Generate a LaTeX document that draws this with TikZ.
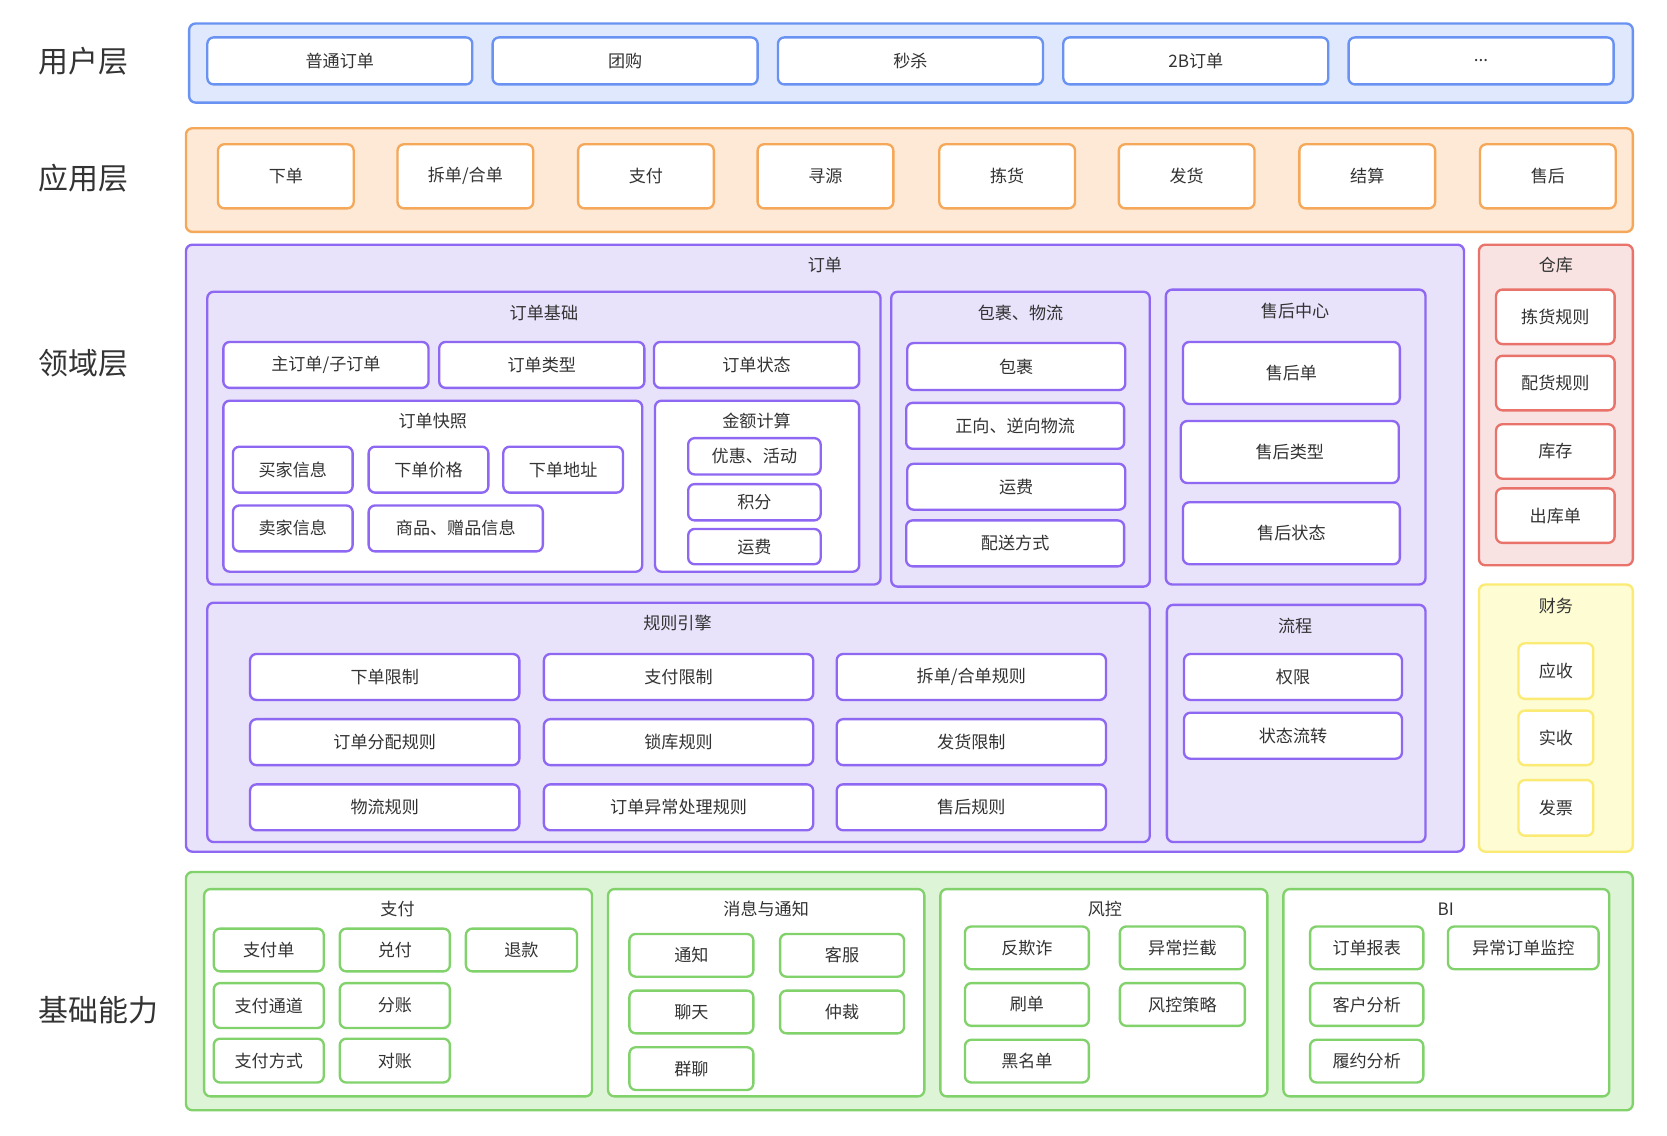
\documentclass[tikz,border=0pt]{standalone}
\usepackage{fontspec}
\setmainfont{Noto Sans CJK SC}
\definecolor{bluB}{HTML}{6A92F2}\definecolor{bluF}{HTML}{DFE8FC}
\definecolor{orgB}{HTML}{F5A85A}\definecolor{orgF}{HTML}{FDE9D5}
\definecolor{purB}{HTML}{8E68F2}\definecolor{purF}{HTML}{E8E2FB}
\definecolor{redB}{HTML}{E9736B}\definecolor{redF}{HTML}{F8E2E2}
\definecolor{yelB}{HTML}{FBEA74}\definecolor{yelF}{HTML}{FEFCD2}
\definecolor{grnB}{HTML}{82D26C}\definecolor{grnF}{HTML}{DDF4D6}
\definecolor{txt}{HTML}{333333}
\newcommand\bx[7]{%
  \pgfmathsetmacro\bxw{#5-#3}\pgfmathsetmacro\bxh{#6-#4}%
  \pgfmathsetmacro\bxcx{(#3+#5)/2}\pgfmathsetmacro\bxcy{(#4+#6)/2}%
  \node[#1, minimum width=\bxw pt, minimum height=\bxh pt] (#2) at (\bxcx,\bxcy) {#7};}
\newcommand\ttl[4]{\node[ttlsty] (#1) at (#2,#3) {#4};}
\begin{document}
\begin{tikzpicture}[x=1pt,y=-1pt,
  base/.style={rectangle, rounded corners=6pt, line width=2.2pt, inner sep=0pt, text=txt,
    font=\fontsize{16}{19}\selectfont},
  ttlsty/.style={inner sep=0pt, text=txt, font=\fontsize{16}{19}\selectfont},
  lyr/.style={inner sep=0pt, text=txt, font=\fontsize{28}{32}\selectfont},
  bluC/.style={base, draw=bluB, fill=bluF}, bluI/.style={base, draw=bluB, fill=white},
  orgC/.style={base, draw=orgB, fill=orgF}, orgI/.style={base, draw=orgB, fill=white},
  purC/.style={base, draw=purB, fill=purF}, purI/.style={base, draw=purB, fill=white},
  redC/.style={base, draw=redB, fill=redF}, redI/.style={base, draw=redB, fill=white},
  yelC/.style={base, draw=yelB, fill=yelF}, yelI/.style={base, draw=yelB, fill=white},
  grnC/.style={base, draw=grnB, fill=grnF}, grnI/.style={base, draw=grnB, fill=white},
]
\useasboundingbox[fill=white] (0,0) rectangle (1560,1063);
% layer labels
\node[lyr] (L1) at (78,57) {用户层};
\node[lyr] (L2) at (78,167) {应用层};
\node[lyr] (L3) at (78,340) {领域层};
\node[lyr] (L4) at (92,945) {基础能力};
% user layer
\bx{bluC}{U}{177}{22}{1528}{96}{}
\bx{bluI}{U1}{194}{35}{442}{79}{普通订单}
\bx{bluI}{U2}{461}{35}{709}{79}{团购}
\bx{bluI}{U3}{728}{35}{976}{79}{秒杀}
\bx{bluI}{U4}{995}{35}{1243}{79}{2B订单}
\bx{bluI}{U5}{1262}{35}{1510}{79}{...}
% app layer
\bx{orgC}{A}{174}{120}{1528}{217}{}
\bx{orgI}{A1}{204}{135}{331}{195}{下单}
\bx{orgI}{A2}{372}{135}{499}{195}{拆单/合单}
\bx{orgI}{A3}{541}{135}{668}{195}{支付}
\bx{orgI}{A4}{709}{135}{836}{195}{寻源}
\bx{orgI}{A5}{879}{135}{1006}{195}{拣货}
\bx{orgI}{A6}{1047}{135}{1174}{195}{发货}
\bx{orgI}{A7}{1216}{135}{1343}{195}{结算}
\bx{orgI}{A8}{1385}{135}{1512}{195}{售后}
% domain: order
\bx{purC}{D}{174}{229}{1370}{797}{}
\ttl{Dt}{772}{248}{订单}
\bx{purC}{OB}{194}{273}{824}{547}{}
\ttl{OBt}{509}{293}{订单基础}
\bx{purI}{OB1}{209}{320}{401}{363}{主订单/子订单}
\bx{purI}{OB2}{411}{320}{603}{363}{订单类型}
\bx{purI}{OB3}{612}{320}{804}{363}{订单状态}
\bx{purI}{SN}{209}{375}{601}{535}{}
\ttl{SNt}{405}{394}{订单快照}
\bx{purI}{SN1}{218}{418}{330}{461}{买家信息}
\bx{purI}{SN2}{345}{418}{457}{461}{下单价格}
\bx{purI}{SN3}{471}{418}{583}{461}{下单地址}
\bx{purI}{SN4}{218}{473}{330}{516}{卖家信息}
\bx{purI}{SN5}{345}{473}{508}{516}{商品、赠品信息}
\bx{purI}{AM}{613}{375}{804}{535}{}
\ttl{AMt}{708}{394}{金额计算}
\bx{purI}{AM1}{644}{410}{768}{444}{优惠、活动}
\bx{purI}{AM2}{644}{453}{768}{487}{积分}
\bx{purI}{AM3}{644}{495}{768}{528}{运费}
\bx{purC}{PK}{834}{273}{1076}{549}{}
\ttl{PKt}{955}{293}{包裹、物流}
\bx{purI}{PK1}{849}{321}{1053}{365}{包裹}
\bx{purI}{PK2}{848}{377}{1052}{420}{正向、逆向物流}
\bx{purI}{PK3}{849}{434}{1053}{477}{运费}
\bx{purI}{PK4}{848}{487}{1052}{530}{配送方式}
\bx{purC}{AS}{1091}{271}{1334}{547}{}
\ttl{ASt}{1212}{291}{售后中心}
\bx{purI}{AS1}{1107}{320}{1310}{378}{售后单}
\bx{purI}{AS2}{1105}{394}{1309}{452}{售后类型}
\bx{purI}{AS3}{1107}{470}{1310}{528}{售后状态}
\bx{purC}{RE}{194}{564}{1076}{788}{}
\ttl{REt}{634}{583}{规则引擎}
\bx{purI}{RE1}{234}{612}{486}{655}{下单限制}
\bx{purI}{RE2}{509}{612}{761}{655}{支付限制}
\bx{purI}{RE3}{783}{612}{1035}{655}{拆单/合单规则}
\bx{purI}{RE4}{234}{673}{486}{716}{订单分配规则}
\bx{purI}{RE5}{509}{673}{761}{716}{锁库规则}
\bx{purI}{RE6}{783}{673}{1035}{716}{发货限制}
\bx{purI}{RE7}{234}{734}{486}{777}{物流规则}
\bx{purI}{RE8}{509}{734}{761}{777}{订单异常处理规则}
\bx{purI}{RE9}{783}{734}{1035}{777}{售后规则}
\bx{purC}{FL}{1092}{566}{1334}{788}{}
\ttl{FLt}{1212}{586}{流程}
\bx{purI}{FL1}{1108}{612}{1312}{655}{权限}
\bx{purI}{FL2}{1108}{667}{1312}{710}{状态流转}
% warehouse
\bx{redC}{W}{1384}{229}{1528}{529}{}
\ttl{Wt}{1456}{248}{仓库}
\bx{redI}{W1}{1400}{271}{1511}{322}{拣货规则}
\bx{redI}{W2}{1400}{333}{1511}{384}{配货规则}
\bx{redI}{W3}{1400}{397}{1511}{448}{库存}
\bx{redI}{W4}{1400}{457}{1511}{508}{出库单}
% finance
\bx{yelC}{F}{1384}{547}{1528}{797}{}
\ttl{Ft}{1456}{567}{财务}
\bx{yelI}{F1}{1421}{602}{1491}{654}{应收}
\bx{yelI}{F2}{1421}{665}{1491}{716}{实收}
\bx{yelI}{F3}{1421}{730}{1491}{782}{发票}
% base capability
\bx{grnC}{B}{174}{816}{1528}{1039}{}
\bx{grnI}{P}{191}{832}{554}{1026}{}
\ttl{Pt}{372}{851}{支付}
\bx{grnI}{P1}{200}{869}{303}{909}{支付单}
\bx{grnI}{P2}{318}{869}{421}{909}{兑付}
\bx{grnI}{P3}{436}{869}{540}{909}{退款}
\bx{grnI}{P4}{200}{920}{303}{962}{支付通道}
\bx{grnI}{P5}{318}{920}{421}{962}{分账}
\bx{grnI}{P6}{200}{972}{303}{1013}{支付方式}
\bx{grnI}{P7}{318}{972}{421}{1013}{对账}
\bx{grnI}{M}{569}{832}{865}{1026}{}
\ttl{Mt}{717}{851}{消息与通知}
\bx{grnI}{M1}{589}{874}{705}{914}{通知}
\bx{grnI}{M2}{730}{874}{846}{914}{客服}
\bx{grnI}{M3}{589}{927}{705}{967}{聊天}
\bx{grnI}{M4}{730}{927}{846}{967}{仲裁}
\bx{grnI}{M5}{589}{980}{705}{1020}{群聊}
\bx{grnI}{R}{880}{832}{1186}{1026}{}
\ttl{Rt}{1034}{851}{风控}
\bx{grnI}{R1}{903}{867}{1019}{907}{反欺诈}
\bx{grnI}{R2}{1048}{867}{1165}{907}{异常拦截}
\bx{grnI}{R3}{903}{920}{1019}{960}{刷单}
\bx{grnI}{R4}{1048}{920}{1165}{960}{风控策略}
\bx{grnI}{R5}{903}{973}{1019}{1013}{黑名单}
\bx{grnI}{BI}{1201}{832}{1506}{1026}{}
\ttl{BIt}{1353}{851}{BI}
\bx{grnI}{BI1}{1226}{867}{1332}{907}{订单报表}
\bx{grnI}{BI2}{1355}{867}{1496}{907}{异常订单监控}
\bx{grnI}{BI3}{1226}{920}{1332}{960}{客户分析}
\bx{grnI}{BI4}{1226}{973}{1332}{1013}{履约分析}
\end{tikzpicture}
\end{document}
